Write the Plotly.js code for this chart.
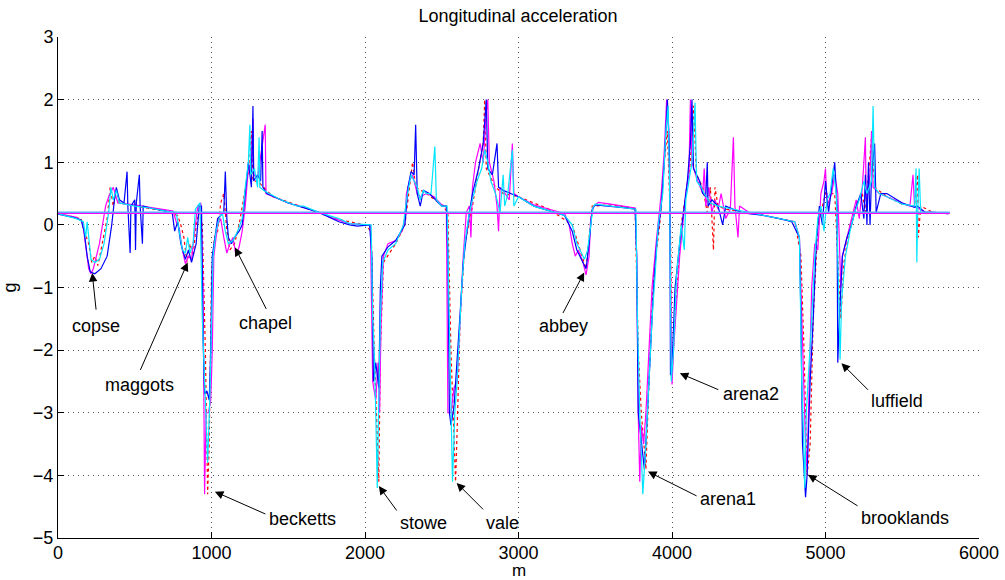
<!DOCTYPE html>
<html>
<head>
<meta charset="utf-8">
<script src="https://cdn.plot.ly/plotly-3.0.1.min.js"></script>
<style>html,body{margin:0;padding:0;background:#fff;}#chart{width:1005px;height:580px;}</style>
</head>
<body>
<div id="chart"></div>
<script>
// ---- data (distance in m, longitudinal acceleration in g) ----
const blueX = [0,100,150,170,190,210,240,280,320,350,370,380,400,430,450,455,470,475,500,505,510,530,535,550,555,600,700,745,760,780,800,830,850,870,900,920,935,945,955,970,985,995,1005,1040,1080,1090,1100,1110,1130,1150,1180,1200,1220,1240,1260,1270,1275,1300,1320,1330,1335,1360,1500,1700,1830,1900,1950,2030,2045,2055,2070,2080,2090,2100,2110,2150,2200,2260,2280,2300,2320,2330,2340,2360,2380,2420,2500,2530,2540,2550,2560,2580,2600,2620,2640,2660,2680,2700,2740,2770,2790,2800,2830,2860,2870,2900,3000,3100,3200,3300,3350,3380,3420,3440,3460,3480,3500,3600,3700,3760,3770,3780,3800,3820,3840,3860,3880,3900,3930,3950,3970,3985,3990,4000,4020,4050,4080,4100,4120,4130,4140,4160,4180,4200,4220,4230,4235,4260,4300,4330,4350,4400,4450,4500,4600,4700,4780,4830,4840,4850,4870,4880,4900,4920,4940,4960,4980,5000,5020,5050,5060,5075,5080,5090,5110,5140,5170,5200,5230,5250,5260,5270,5280,5290,5300,5320,5330,5360,5400,5500,5580,5600,5650,5700,5800];
const blueY = [0.17,0.12,0.08,-0.1,-0.5,-0.75,-0.78,-0.7,-0.5,0.0,0.45,0.6,0.4,0.35,0.85,0.3,-0.45,0.3,0.4,-0.4,0.35,0.8,0.3,-0.3,0.3,0.27,0.22,0.18,-0.1,0.05,-0.3,-0.55,-0.4,-0.6,-0.3,0.3,0.3,-1.8,-2.7,-2.65,-2.8,-2.0,-0.5,0.1,0.2,0.85,0.1,-0.2,-0.3,-0.2,-0.1,0.0,0.5,1.0,0.6,1.9,0.7,0.8,0.7,1.5,0.6,0.5,0.35,0.2,0.05,0.0,-0.02,0.0,-0.5,-2.5,-2.2,-2.4,-2.6,-1.0,-0.5,-0.35,-0.25,0.0,0.6,0.85,0.8,1.6,0.5,0.3,0.55,0.5,0.3,0.3,-0.5,-3.0,-3.2,-2.9,-2.2,-1.4,-0.6,-0.2,0.2,0.5,0.9,1.3,2.0,0.9,0.8,1.3,0.6,0.55,0.45,0.3,0.22,0.15,-0.1,-0.4,-0.6,-0.7,-0.3,0.25,0.32,0.3,0.27,0.25,-0.5,-3.0,-3.5,-3.9,-3.0,-2.0,-1.0,-0.3,0.3,1.0,2.0,1.0,-2.4,-2.3,-1.0,-0.3,0.3,0.7,1.3,2.0,0.9,0.8,0.7,0.5,0.45,1.0,0.3,0.4,0.3,0.0,0.3,0.25,0.2,0.18,0.15,0.1,0.05,-0.2,-1.5,-3.5,-4.35,-4.0,-2.5,-1.5,-0.3,0.3,0.0,0.7,0.2,0.8,1.0,0.3,-2.2,-1.5,-0.5,-0.2,0.0,0.3,0.5,0.1,0.8,0.0,1.0,0.0,0.8,1.3,0.2,0.5,0.5,0.35,0.28,0.3,0.2,0.2,0.18];

const cyanX = [0,120,165,180,190,200,215,240,270,300,330,345,360,380,400,500,600,700,770,790,810,830,845,860,880,895,925,940,960,975,990,1005,1010,1030,1050,1070,1090,1110,1140,1170,1200,1220,1240,1250,1255,1280,1300,1310,1315,1340,1450,1560,1600,1700,1830,1900,2000,2040,2050,2060,2070,2080,2090,2100,2115,2150,2200,2250,2270,2300,2320,2340,2360,2380,2400,2430,2455,2465,2500,2535,2545,2555,2570,2585,2600,2630,2650,2680,2700,2730,2760,2780,2800,2820,2850,2880,2900,2910,2930,2960,2970,3000,3100,3200,3300,3350,3380,3410,3430,3450,3470,3485,3500,3600,3700,3765,3775,3790,3810,3830,3850,3870,3890,3910,3940,3960,3975,3985,3995,4010,4030,4060,4080,4090,4110,4130,4150,4160,4190,4210,4250,4300,4400,4500,4600,4700,4800,4830,4845,4855,4865,4875,4890,4910,4930,4950,4970,4990,5010,5030,5050,5070,5085,5095,5105,5130,5160,5190,5220,5250,5270,5300,5310,5320,5350,5400,5500,5580,5590,5595,5600,5610,5620,5700,5800];
const cyanY = [0.18,0.1,0.05,-0.2,0.05,-0.2,-0.55,-0.6,-0.55,-0.3,0.2,0.6,0.4,0.55,0.35,0.3,0.27,0.22,0.2,-0.1,-0.4,-0.45,-0.2,-0.45,-0.3,0.25,0.35,-1.5,-2.7,-3.8,-2.7,-1.2,-0.5,-0.1,0.1,0.2,-0.1,-0.3,-0.25,-0.1,0.1,0.6,1.0,1.6,0.8,0.9,0.6,1.4,0.6,0.55,0.4,0.3,0.3,0.2,0.1,0.02,0.0,0.0,-1.5,-2.0,-3.0,-4.2,-2.8,-1.5,-0.6,-0.4,-0.3,0.0,0.4,0.8,0.7,0.6,0.4,0.55,0.5,0.5,1.25,0.4,0.3,0.3,-1.0,-2.5,-4.1,-3.0,-2.5,-1.0,-0.3,0.2,0.4,0.7,0.9,1.2,1.0,0.7,0.5,0.2,0.8,0.3,0.5,1.2,0.3,0.45,0.3,0.22,0.15,0.0,-0.3,-0.45,-0.55,-0.4,0.0,0.28,0.33,0.3,0.27,0.25,-1.5,-3.0,-4.3,-3.5,-2.5,-1.5,-0.8,0.0,0.5,1.5,1.9,0.5,-2.5,-2.0,-0.8,0.0,-0.4,0.4,0.7,1.0,1.95,0.7,0.6,0.5,0.35,0.3,0.25,0.2,0.15,0.1,0.05,-0.2,-2.5,-3.2,-4.2,-3.0,-2.4,-1.5,-0.5,0.1,0.3,-0.1,0.4,0.5,0.9,0.5,-1.0,-2.15,-1.2,-0.5,-0.1,0.2,0.4,0.7,0.5,0.7,1.9,0.6,0.5,0.45,0.33,0.3,0.9,-0.6,0.1,0.9,0.2,0.2,0.18];

const magentaX = [0,120,160,180,200,215,230,250,270,290,310,330,360,390,500,600,700,750,770,790,810,830,850,870,890,910,930,945,955,965,980,995,1005,1015,1040,1060,1080,1100,1120,1140,1160,1180,1200,1220,1240,1260,1270,1275,1300,1350,1355,1400,1500,1600,1700,1800,1900,2000,2035,2050,2070,2085,2095,2105,2120,2150,2200,2240,2260,2270,2290,2310,2320,2340,2360,2400,2450,2500,2530,2540,2560,2580,2600,2620,2640,2660,2680,2690,2700,2720,2750,2770,2790,2800,2810,2840,2860,2870,2880,2900,2940,2960,2970,3000,3100,3200,3300,3330,3350,3370,3390,3420,3440,3460,3470,3490,3520,3600,3700,3760,3770,3780,3790,3800,3815,3830,3850,3870,3900,3930,3950,3965,3980,3990,4000,4010,4030,4050,4070,4090,4110,4120,4130,4160,4200,4210,4220,4240,4260,4280,4300,4320,4350,4380,4400,4410,4430,4440,4500,4600,4700,4800,4830,4840,4855,4870,4880,4895,4910,4930,4950,4970,4990,5000,5010,5040,5060,5080,5100,5110,5140,5170,5200,5220,5240,5260,5265,5290,5300,5310,5350,5400,5500,5550,5570,5580,5650,5700,5800];
const magentaY = [0.18,0.12,0.05,-0.3,-0.7,-0.78,-0.7,-0.5,-0.3,0.0,0.3,0.45,0.6,0.35,0.32,0.28,0.24,0.22,0.05,-0.05,-0.4,-0.62,-0.5,-0.55,-0.1,0.3,0.35,-1.0,-4.3,-3.0,-3.0,-2.8,-2.0,-0.5,0.0,0.1,-0.2,-0.45,-0.3,-0.2,-0.5,-0.35,-0.1,0.3,0.9,1.0,1.7,0.8,0.75,1.6,0.5,0.45,0.35,0.28,0.2,0.1,0.02,0.0,0.0,-2.5,-2.8,-2.2,-3.0,-1.5,-0.5,-0.3,-0.25,-0.1,0.1,0.5,0.7,0.8,0.7,0.5,0.45,0.5,0.45,0.32,0.3,-3.0,-3.0,-2.6,-2.5,-1.5,-0.5,0.2,0.3,-0.2,0.6,1.0,1.3,1.0,1.8,2.0,1.0,0.7,0.3,-0.1,0.6,0.55,0.4,1.3,0.5,0.45,0.32,0.25,0.18,0.0,-0.3,-0.5,-0.4,-0.6,-0.8,-0.5,0.1,0.3,0.36,0.33,0.3,0.27,-0.5,-3.0,-4.1,-3.2,-3.5,-3.0,-2.0,-1.0,-0.2,0.5,1.2,2.0,1.5,-0.5,-2.55,-2.0,-1.2,-0.5,0.0,0.5,0.8,2.0,1.0,0.75,0.5,0.9,0.3,0.6,0.2,0.4,0.25,0.5,0.1,0.25,1.4,0.3,-0.2,0.3,0.2,0.15,0.1,0.05,-0.2,-1.0,-2.0,-3.5,-3.9,-2.5,-1.0,-0.3,-0.4,0.5,0.7,0.9,0.3,0.5,0.8,0.5,-1.0,-0.5,-0.2,0.1,0.4,0.1,0.6,1.4,0.4,0.8,1.5,0.6,0.5,0.45,0.35,0.3,0.8,0.3,0.2,0.2,0.18];

const redX = [0,150,170,200,220,240,260,280,300,320,340,360,380,400,500,700,780,800,820,840,860,880,900,920,940,960,975,985,1000,1020,1040,1060,1080,1100,1120,1150,1180,1220,1250,1260,1270,1300,1400,1600,1800,2000,2040,2060,2080,2090,2100,2120,2200,2260,2290,2310,2330,2400,2500,2540,2560,2590,2600,2620,2650,2700,2740,2770,2780,2790,2850,2900,3000,3200,3350,3400,3440,3480,3600,3760,3780,3800,3830,3850,3880,3920,3950,3970,3990,4000,4020,4060,4090,4120,4140,4160,4200,4230,4250,4270,4280,4300,4350,4500,4800,4840,4860,4880,4900,4920,4950,5000,5060,5080,5100,5120,5160,5200,5240,5260,5280,5300,5320,5400,5500,5580,5600,5605,5620,5700,5800];
const redY = [0.18,0.1,-0.1,-0.3,-0.6,-0.5,-0.65,-0.4,-0.2,0.1,0.6,0.3,0.55,0.35,0.3,0.22,0.15,0.0,-0.2,-0.6,-0.3,-0.5,0.0,0.2,0.0,-2.0,-4.3,-3.5,-0.8,-0.2,-0.1,0.35,0.5,-0.1,-0.4,-0.3,0.0,0.6,1.0,1.5,0.7,0.7,0.45,0.28,0.1,0.0,-0.1,-2.0,-3.5,-4.1,-2.0,-0.6,-0.3,0.0,0.6,1.0,0.6,0.5,0.32,0.2,-2.0,-4.1,-3.3,-1.5,-0.3,0.3,0.9,1.3,2.0,0.9,0.6,0.5,0.45,0.25,0.0,-0.4,-0.7,0.3,0.32,0.26,-2.0,-3.0,-3.9,-2.5,-0.8,0.0,1.0,1.5,0.0,-2.4,-1.5,0.0,0.5,1.0,1.9,0.8,0.6,0.2,0.6,-0.4,0.6,0.3,0.25,0.2,0.05,-0.5,-2.0,-4.0,-3.5,-1.5,0.0,0.5,0.5,-0.5,-1.5,-0.6,0.0,0.3,0.5,0.2,0.8,1.4,0.6,0.45,0.33,0.3,0.8,-0.2,0.3,0.2,0.18];

// reference level lines
const refX = [0, 5810];
const refMagentaY = [0.185, 0.185];
const refBlueY = [0.2, 0.2];

// corner labels: name, arrow tip (m, g)
const cornerNames = ["copse","maggots","chapel","becketts","stowe","vale","abbey","arena1","arena2","luffield","brooklands"];
const cornerX = [223, 845, 1153, 1022, 2090, 2597, 3428, 3844, 4051, 5104, 4886];
const cornerY = [-0.77, -0.60, -0.36, -4.26, -4.17, -4.12, -0.76, -3.94, -2.37, -2.21, -3.99];

// axis ticks and titles
const xTicks = [0,1000,2000,3000,4000,5000,6000];
const yTicks = [-5,-4,-3,-2,-1,0,1,2,3];
const xTitle = 'm';
const yTitle = 'g';

// ---- styling / layout (pixel offsets from arrow tip) ----
const tailOffsets = [[4,38],[-48,109],[32,63],[52,23],[19,26],[28,28],[-22,42],[50,25],[40,17],[28,28],[51,32]];
const textOffsets = [[4,53],[-48,123],[31,76],[88,27],[45,37],[46,40],[-21,54],[80,27],[71,21],[56,38],[97,43]];
const FONT = 'Liberation Sans, Arial, Helvetica, sans-serif';

function line(x, y, color, dash, width) {
  return {x: x, y: y, type: 'scatter', mode: 'lines', hoverinfo: 'skip',
          line: {color: color, width: width || 1.2, dash: dash || 'solid'}};
}

const traces = [
  line(redX, redY, '#ff0000', 'dot', 1.2),
  line(magentaX, magentaY, '#ff00ff'),
  line(blueX, blueY, '#0000ff'),
  line(cyanX, cyanY, '#00e5ff'),
  line(refX, refMagentaY, '#ff00ff', 'solid', 1.5),
  line(refX, refBlueY, '#5aa8ff', 'solid', 1.5)
];

const annotations = [];
cornerNames.forEach((n, i) => {
  annotations.push({
    x: cornerX[i], y: cornerY[i], xref: 'x', yref: 'y', text: '',
    showarrow: true, arrowhead: 2, arrowsize: 1.7, arrowwidth: 1, arrowcolor: '#000',
    ax: tailOffsets[i][0], ay: tailOffsets[i][1], standoff: 0
  });
  annotations.push({
    x: cornerX[i], y: cornerY[i], xref: 'x', yref: 'y', text: n, showarrow: false,
    xshift: textOffsets[i][0], yshift: -textOffsets[i][1],
    xanchor: 'center', yanchor: 'middle',
    font: {family: FONT, size: 18, color: '#000'}
  });
});
// x-axis title placed as a paper annotation just under the tick labels
annotations.push({
  x: 0.5, y: 0, xref: 'paper', yref: 'paper', text: xTitle, showarrow: false,
  xanchor: 'center', yanchor: 'top', yshift: -22, borderpad: 0,
  font: {family: FONT, size: 17, color: '#000'}
});

const axisCommon = {
  showline: true, linecolor: '#000', linewidth: 1,
  ticks: 'inside', ticklen: 6, tickcolor: '#000', tickwidth: 1,
  showgrid: true, gridcolor: '#555', griddash: '1px,4px', gridwidth: 1,
  zeroline: false, tickfont: {family: FONT, size: 18, color: '#000'}
};

const layout = {
  width: 1005, height: 580,
  margin: {l: 58, r: 26, t: 37, b: 42},
  paper_bgcolor: '#fff', plot_bgcolor: '#fff',
  showlegend: false,
  font: {family: FONT, size: 18, color: '#000'},
  title: {text: 'Longitudinal acceleration', font: {family: FONT, size: 18, color: '#000'},
          x: 0.5155, xref: 'container', y: 0.973, yref: 'container', xanchor: 'center', yanchor: 'middle'},
  xaxis: Object.assign({}, axisCommon, {range: [0, 6000], tickvals: xTicks, ticklabelstandoff: -2}),
  yaxis: Object.assign({}, axisCommon, {range: [-5, 3], tickvals: yTicks,
          title: {text: yTitle, font: {family: FONT, size: 18, color: '#000'}, standoff: 13}}),
  annotations: annotations
};

Plotly.newPlot('chart', traces, layout, {displayModeBar: false, staticPlot: true});
</script>
</body>
</html>
